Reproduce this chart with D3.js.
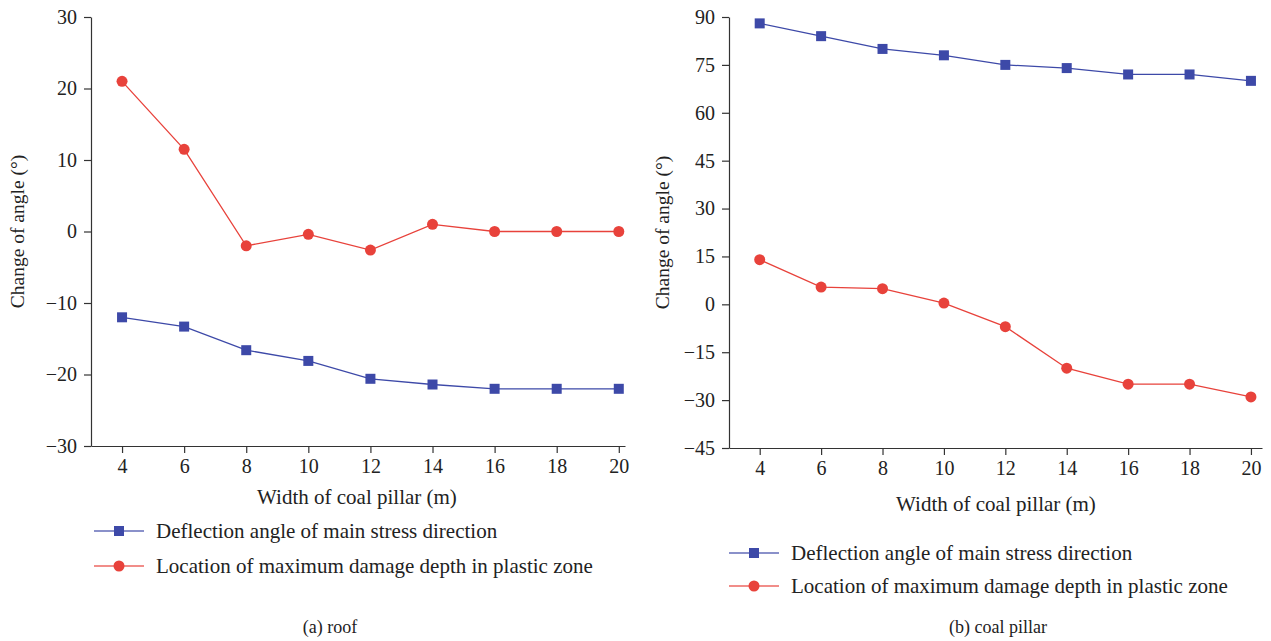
<!DOCTYPE html>
<html>
<head>
<meta charset="utf-8">
<script src="https://cdn.jsdelivr.net/npm/d3@7"></script>
<style>
  body { margin: 0; background: #fff; }
  svg text { font-family: "Liberation Serif", "DejaVu Serif", serif; fill: #222; }
  .axis path, .axis line { stroke: #333; stroke-width: 1.2; }
</style>
</head>
<body>
<svg id="chart" width="1271" height="641"></svg>
<script>
// Chart data
const widths = [4, 6, 8, 10, 12, 14, 16, 18, 20];

// (a) roof
const roofDeflection = [-12, -13.3, -16.6, -18.1, -20.6, -21.4, -22, -22, -22];
const roofDamage = [21, 11.5, -2, -0.4, -2.6, 1, 0, 0, 0];
const roofTicks = [-30, -20, -10, 0, 10, 20, 30];

// (b) coal pillar
const pillarDeflection = [88, 84, 80, 78, 75, 74, 72, 72, 70];
const pillarDamage = [14, 5.4, 4.9, 0.4, -7, -20, -25, -25, -29];
const pillarTicks = [-45, -30, -15, 0, 15, 30, 45, 60, 75, 90];

const seriesNames = ["Deflection angle of main stress direction", "Location of maximum damage depth in plastic zone"];
const blue = "#3d49a8";
const red = "#e8423b";

const svg = d3.select("#chart");

function drawPanel(opts) {
    const g = svg.append("g");

    const x = d3.scaleLinear()
        .domain(opts.xDomain)
        .range([opts.left, opts.right]);

    const y = d3.scaleLinear()
        .domain([opts.ticks[0], opts.ticks[opts.ticks.length - 1]])
        .range([opts.bottom, opts.top]);

    // axes
    g.append("g")
        .attr("class", "axis")
        .attr("transform", `translate(0,${opts.bottom})`)
        .call(d3.axisBottom(x).tickValues(widths).tickSize(7).tickSizeOuter(0).tickPadding(6))
        .selectAll("text").attr("font-size", 20).attr("font-family", null);

    g.append("g")
        .attr("class", "axis")
        .attr("transform", `translate(${opts.left},0)`)
        .call(d3.axisLeft(y).tickValues(opts.ticks).tickSize(7).tickSizeOuter(0).tickPadding(7)
            .tickFormat(d => d < 0 ? "\u2212" + Math.abs(d) : d))
        .selectAll("text").attr("font-size", 20).attr("font-family", null);

    const line = d3.line()
        .x((d, i) => x(widths[i]))
        .y(d => y(d));

    // blue series with square markers
    g.append("path")
        .datum(opts.deflection)
        .attr("fill", "none")
        .attr("stroke", blue)
        .attr("stroke-width", 1.3)
        .attr("d", line);

    g.selectAll("rect.sq")
        .data(opts.deflection)
        .join("rect")
        .attr("class", "sq")
        .attr("x", (d, i) => x(widths[i]) - 5)
        .attr("y", d => y(d) - 5)
        .attr("width", 10)
        .attr("height", 10)
        .attr("fill", blue);

    // red series with circle markers
    g.append("path")
        .datum(opts.damage)
        .attr("fill", "none")
        .attr("stroke", red)
        .attr("stroke-width", 1.3)
        .attr("d", line);

    g.selectAll("circle.dot")
        .data(opts.damage)
        .join("circle")
        .attr("class", "dot")
        .attr("cx", (d, i) => x(widths[i]))
        .attr("cy", d => y(d))
        .attr("r", 5.5)
        .attr("fill", red);

    // x axis label
    g.append("text")
        .attr("text-anchor", "middle")
        .attr("x", opts.xLabelX)
        .attr("y", opts.xLabelY)
        .attr("font-size", 21)
        .text("Width of coal pillar (m)");

    // y axis label
    g.append("text")
        .attr("text-anchor", "middle")
        .attr("transform", `translate(${opts.yLabelX},${(opts.top + opts.bottom) / 2}) rotate(-90)`)
        .attr("font-size", 19.5)
        .text("Change of angle (\u00b0)");

    // legend
    const colors = [blue, red];
    seriesNames.forEach((name, i) => {
        const ly = opts.legendY[i];
        const lx = opts.legendX;
        g.append("line")
            .attr("x1", lx).attr("x2", lx + 50)
            .attr("y1", ly).attr("y2", ly)
            .attr("stroke", colors[i])
            .attr("stroke-opacity", 0.8)
            .attr("stroke-width", 1.3);
        if (i === 0) {
            g.append("rect")
                .attr("x", lx + 25 - 5).attr("y", ly - 5)
                .attr("width", 10).attr("height", 10)
                .attr("fill", blue);
        } else {
            g.append("circle")
                .attr("cx", lx + 25).attr("cy", ly)
                .attr("r", 5.5)
                .attr("fill", red);
        }
        g.append("text")
            .attr("x", lx + 62)
            .attr("y", ly + 7)
            .attr("font-size", 21)
            .text(name);
    });

    // caption
    g.append("text")
        .attr("text-anchor", "middle")
        .attr("x", opts.captionX)
        .attr("y", 633)
        .attr("font-size", 18)
        .text(opts.caption);
}

drawPanel({
    left: 91, right: 625, top: 17, bottom: 446,
    xDomain: [3, 20.2],
    ticks: roofTicks,
    deflection: roofDeflection,
    damage: roofDamage,
    xLabelX: 357, xLabelY: 504,
    yLabelX: 24,
    legendX: 94, legendY: [531, 566],
    captionX: 330,
    caption: "(a) roof"
});

drawPanel({
    left: 729, right: 1262, top: 17, bottom: 448,
    xDomain: [3, 20.36],
    ticks: pillarTicks,
    deflection: pillarDeflection,
    damage: pillarDamage,
    xLabelX: 996, xLabelY: 511,
    yLabelX: 669,
    legendX: 729, legendY: [553, 586],
    captionX: 998,
    caption: "(b) coal pillar"
});
</script>
</body>
</html>
